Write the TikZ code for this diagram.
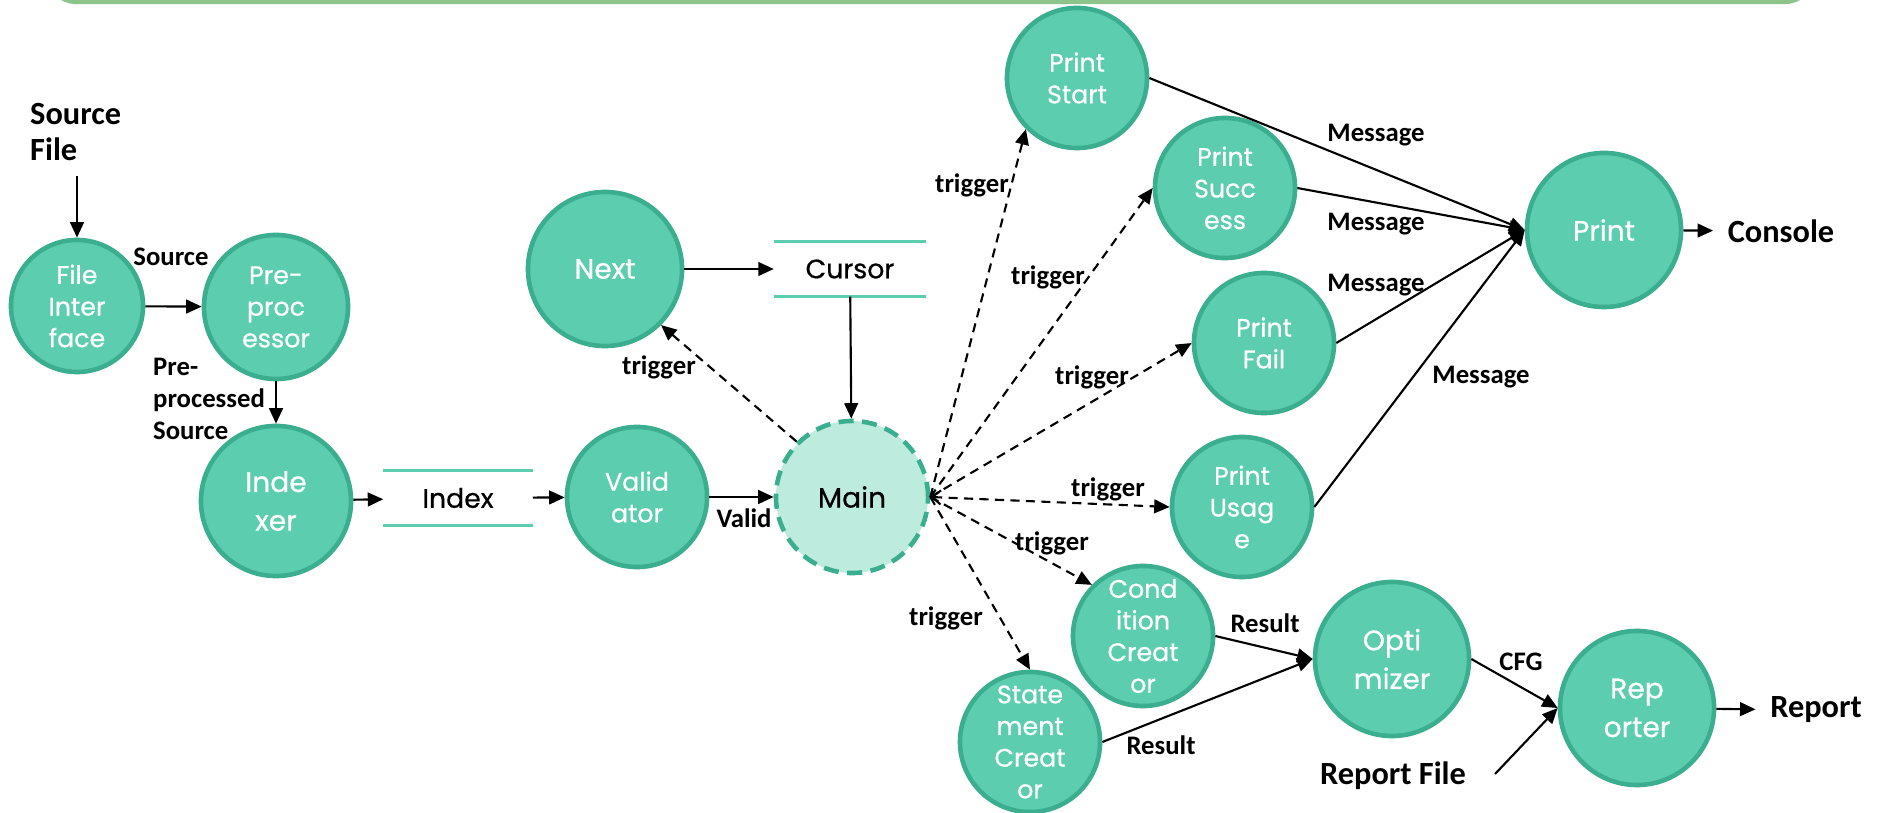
\documentclass[tikz,border=0pt]{standalone}
\usepackage{fontspec}
\usepackage{tikz}
\usetikzlibrary{positioning, arrows.meta}
\newfontfamily\nodefont[FakeBold=0.6]{Poppins}
\newfontfamily\labfont{Carlito}
\definecolor{procfill}{HTML}{5DCDB0}
\definecolor{procline}{HTML}{3AAE8E}
\definecolor{mainfill}{HTML}{BDEBDD}
\definecolor{bandgreen}{HTML}{8CC48C}

\begin{document}
\begin{tikzpicture}[x=0.01cm, y=-0.01cm,
  proc/.style={circle, fill=procfill, draw=procline, line width=1.3pt, inner sep=0pt,
    align=center, text=white, minimum size=1.4cm, font=\nodefont\fontsize{7.2}{9}\selectfont},
  bigproc/.style={proc, minimum size=1.54cm, font=\nodefont\fontsize{8}{11}\selectfont},
  store/.style={minimum width=1.48cm, minimum height=0.54cm, font=\nodefont\fontsize{7.6}{9}\selectfont},
  storeline/.style={procfill, line width=0.9pt},
  lab/.style={font=\labfont\bfseries\fontsize{7.6}{9}\selectfont, inner sep=1pt},
  endlab/.style={font=\labfont\bfseries\fontsize{9.2}{10.5}\selectfont, inner sep=1pt},
  flow/.style={-{Triangle[length=4.4pt, width=3.9pt]}, line width=0.6pt},
  trig/.style={flow, dash pattern=on 2.6pt off 1.8pt},
  outflow/.style={flow, shorten >=3pt}
]
\useasboundingbox (0,0) rectangle (1885,813);

% Frame edge at the top
\draw[bandgreen, line width=1.2pt, rounded corners=8pt] (48,-30) -- (48,2) -- (1813,2) -- (1813,-30);

% Input side
\node[endlab, align=left, anchor=west] (src) at (26,132) {Source\\File};
\node[proc, minimum size=1.32cm] (fi) at (77,306) {File\\Inter\\face};
\node[proc, minimum size=1.44cm] (pre) at (276,307) {Pre-\\proc\\essor};
\node[bigproc, minimum size=1.5cm] (idx) at (276,501) {Inde\\xer};
\node[store] (index) at (458,498) {Index};
\node[proc] (val) at (637,497) {Valid\\ator};

% Control loop
\node[bigproc, fill=mainfill, text=black, minimum size=1.52cm,
  dash pattern=on 4.3pt off 2.4pt] (main) at (852,497) {Main};
\node[bigproc] (next) at (605,269) {Next};
\node[store, minimum width=1.51cm] (cursor) at (850,269) {Cursor};

% Printers
\node[proc] (pstart) at (1077,78) {Print\\Start};
\node[proc] (psucc) at (1225,188) {Print\\Succ\\ess};
\node[proc] (pfail) at (1264,343) {Print\\Fail};
\node[proc] (pusage) at (1242,507) {Print\\Usag\\e};
\node[bigproc] (print) at (1604,230) {Print};
\node[endlab] (console) at (1781,231) {Console};

% Creators and output
\node[proc] (cond) at (1143,636) {Cond\\ition\\Creat\\or};
\node[proc] (stmt) at (1030,742) {State\\ment\\Creat\\or};
\node[bigproc] (opt) at (1392,659) {Opti\\mizer};
\node[bigproc] (rep) at (1637,708) {Rep\\orter};
\node[endlab] (report) at (1816,710) {Report};
\node[endlab] (rfile) at (1393,776) {Report File};
\coordinate (rf) at (1495,774);

% Store lines
\draw[storeline] (index.north west) -- (index.north east) (index.south west) -- (index.south east);
\draw[storeline] (cursor.north west) -- (cursor.north east) (cursor.south west) -- (cursor.south east);

% Data flow
\draw[flow, shorten <=3pt] (fi |- src.south) -- (fi);
\draw[flow] (fi) -- (pre);
\draw[flow] (pre) -- (idx);
\draw[flow] (idx) -- (index);
\draw[flow] (index) -- (val);
\draw[flow] (val) -- (main);
\draw[flow] (next) -- (cursor);
\draw[flow] (cursor) -- (main);

% Triggers
\draw[trig] (main.135) -- (next.-45);
\draw[trig] (main.east) -- (pstart.225);
\draw[trig] (main.east) -- (psucc.west);
\draw[trig] (main.east) -- (pfail.west);
\draw[trig, {Straight Barb[length=2.5pt, width=4pt]}-{Triangle[length=4.4pt, width=3.9pt]}] (main.east) -- (pusage.west);
\draw[trig] (main.east) -- (cond.135);
\draw[trig] (main.east) -- (stmt.north);

% Messages and results
\draw[flow] (pstart.east) -- (print.west);
\draw[flow] (psucc.east) -- (print.west);
\draw[flow] (pfail.east) -- (print.west);
\draw[flow] (pusage.east) -- (print.west);
\draw[outflow] (print) -- (console);
\draw[flow] (cond.east) -- (opt.west);
\draw[flow] (stmt.east) -- (opt.west);
\draw[flow] (opt.east) -- (rep.west);
\draw[flow] (rf) -- (rep.west);
\draw[outflow] (rep) -- (report);

% Labels
\node[lab] (lsrc) at (171,257) {Source};
\node[lab, align=left, anchor=west] (lpre) at (149,399) {Pre-\\processed\\Source};
\node[lab] (lvalid) at (744,518) {Valid};
\node[lab] (tnext) at (659,367) {trigger};
\node[lab] (tstart) at (972,185) {trigger};
\node[lab] (tsucc) at (1048,277) {trigger};
\node[lab] (tfail) at (1092,377) {trigger};
\node[lab] (tusage) at (1108,489) {trigger};
\node[lab] (tcond) at (1052,543) {trigger};
\node[lab] (tstmt) at (946,618) {trigger};
\node[lab] (mstart) at (1376,135) {Message};
\node[lab] (msucc) at (1376,224) {Message};
\node[lab] (mfail) at (1376,285) {Message};
\node[lab] (musage) at (1481,377) {Message};
\node[lab] (rcond) at (1265,623) {Result};
\node[lab] (rstmt) at (1161,745) {Result};
\node[lab] (lcfg) at (1521,662) {CFG};
\end{tikzpicture}
\end{document}
